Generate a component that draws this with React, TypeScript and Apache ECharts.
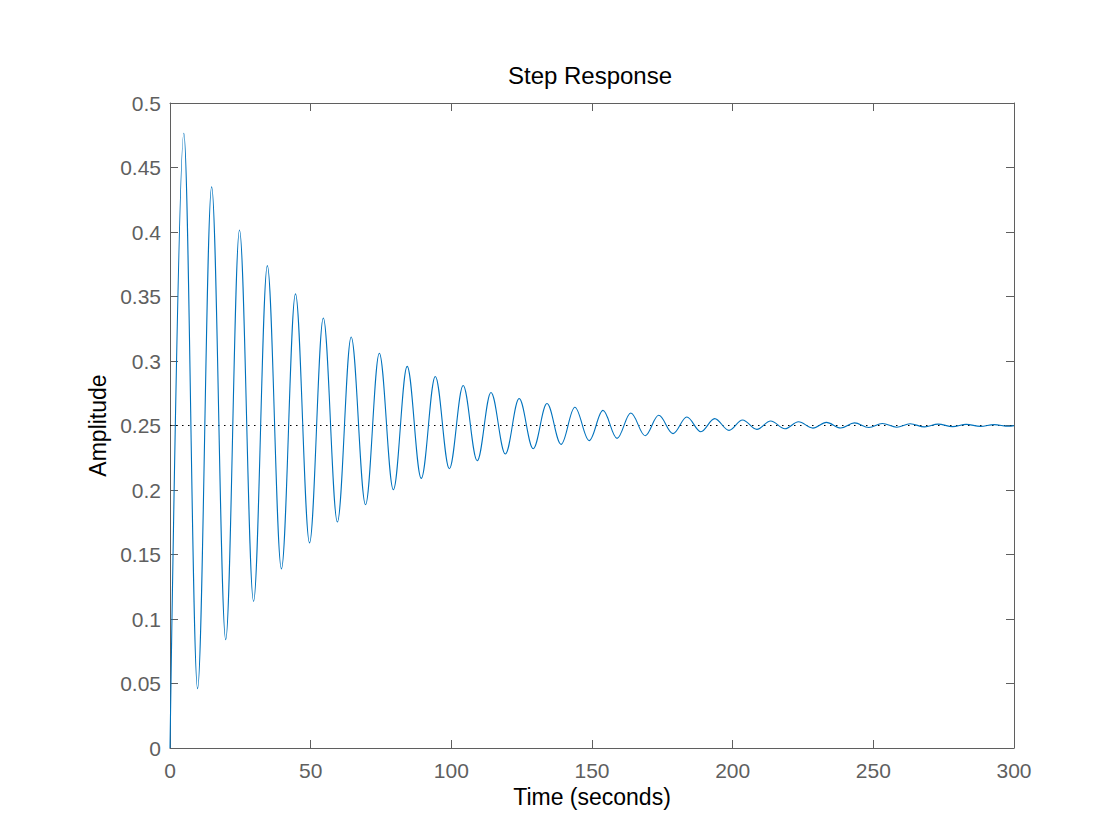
import React, { useEffect, useRef } from "react";
import * as echarts from "echarts";

// Local maxima and minima of the step response
const peakTimes = [4.9, 14.8, 24.7, 34.6, 44.6, 54.5, 64.4, 74.4, 84.3, 94.3, 104.2, 114.1, 124.1, 134.0, 143.9, 153.9, 163.8, 173.7, 183.7, 193.6, 203.5, 213.5, 223.4, 233.3, 243.3, 253.2, 263.1, 273.0, 283.0, 292.9];
const peakValues = [0.4765, 0.435, 0.4016, 0.3739, 0.352, 0.3333, 0.3186, 0.306, 0.2958, 0.288, 0.281, 0.2756, 0.2709, 0.267, 0.2642, 0.2617, 0.2597, 0.2579, 0.2566, 0.2553, 0.2543, 0.2535, 0.2529, 0.2524, 0.252, 0.2516, 0.2513, 0.2511, 0.2509, 0.2507];
const troughTimes = [9.8, 19.8, 29.7, 39.6, 49.6, 59.5, 69.5, 79.4, 89.3, 99.3, 109.2, 119.2, 129.1, 139.0, 149.0, 158.9, 168.9, 178.8, 188.7, 198.7, 208.6, 218.6, 228.5, 238.4, 248.4, 258.3, 268.2, 278.2, 288.1, 298.1];
const troughValues = [0.046, 0.084, 0.1137, 0.1388, 0.159, 0.1752, 0.1886, 0.2002, 0.209, 0.2165, 0.2227, 0.2279, 0.232, 0.2354, 0.2383, 0.24, 0.2421, 0.2437, 0.2452, 0.2462, 0.247, 0.2475, 0.248, 0.2481, 0.2484, 0.2487, 0.2489, 0.2491, 0.2493, 0.2494];
const startPoint = [0, 0];
const endPoint = [300, 0.2499];
const steadyState = 0.25;
const timeRange = [0, 300];

const xTicks = { min: 0, max: 300, interval: 50 };
const yTicks = { min: 0, max: 0.5, interval: 0.05 };

const titleText = "Step Response";
const xName = "Time (seconds)";
const yName = "Amplitude";

export default function App() {
  const ref = useRef<HTMLDivElement>(null);
  useEffect(() => {
    if (!ref.current) return;
    const chart = echarts.init(ref.current, null, { renderer: "svg" });
    const pts: number[][] = [startPoint];
    peakTimes.forEach((t, i) => pts.push([t, peakValues[i]]));
    troughTimes.forEach((t, i) => pts.push([t, troughValues[i]]));
    pts.push(endPoint);
    pts.sort((a, b) => a[0] - b[0]);

    const font = "'Liberation Sans', Arial, Helvetica, sans-serif";
    const axisColor = "#5f5f5f";
    const base = {
      axisLine: { show: true, onZero: false, lineStyle: { color: axisColor, width: 1 } },
      axisTick: { show: true, inside: true, length: 8, lineStyle: { color: axisColor, width: 1 } },
      splitLine: { show: false },
    };
    chart.setOption({
      animation: false,
      backgroundColor: "#ffffff",
      title: {
        text: titleText,
        left: 585,
        top: 58,
        textAlign: "center",
        textStyle: { fontFamily: font, fontSize: 24, fontWeight: "normal", color: "#000" },
      },
      grid: { left: 170, right: 106, top: 103, bottom: 92, containLabel: false },
      xAxis: [
        {
          type: "value",
          position: "bottom",
          ...xTicks,
          ...base,
          name: xName,
          nameLocation: "middle",
          nameGap: 37,
          nameTextStyle: { fontFamily: font, fontSize: 23, color: "#000" },
          axisLabel: { color: axisColor, fontFamily: font, fontSize: 21, margin: 12 },
        },
        {
          type: "value",
          position: "top",
          ...xTicks,
          ...base,
          axisLabel: { show: false },
        },
      ],
      yAxis: [
        {
          type: "value",
          position: "left",
          ...yTicks,
          ...base,
          name: yName,
          nameLocation: "middle",
          nameGap: 55,
          nameTextStyle: { fontFamily: font, fontSize: 23, color: "#000" },
          axisLabel: {
            color: axisColor,
            fontFamily: font,
            fontSize: 21,
            margin: 9,
            formatter: (v: number) => String(+v.toFixed(2)),
          },
        },
        {
          type: "value",
          position: "right",
          ...yTicks,
          ...base,
          axisLabel: { show: false },
        },
      ],
      series: [
        {
          type: "line",
          data: [
            [timeRange[0], steadyState],
            [timeRange[1], steadyState],
          ],
          showSymbol: false,
          symbol: "none",
          lineStyle: { color: "#000", width: 1.2, type: [1.5, 4.5] },
          z: 1,
        },
        {
          type: "line",
          data: pts,
          smooth: 0.36,
          smoothMonotone: "x",
          showSymbol: false,
          symbol: "none",
          lineStyle: { color: "#0072BD", width: 1.1 },
          z: 2,
        },
      ],
    });
    return () => chart.dispose();
  }, []);
  return (
    <div
      ref={ref}
      style={{ position: "absolute", left: 0, top: 0, width: 1120, height: 840 }}
    />
  );
}
